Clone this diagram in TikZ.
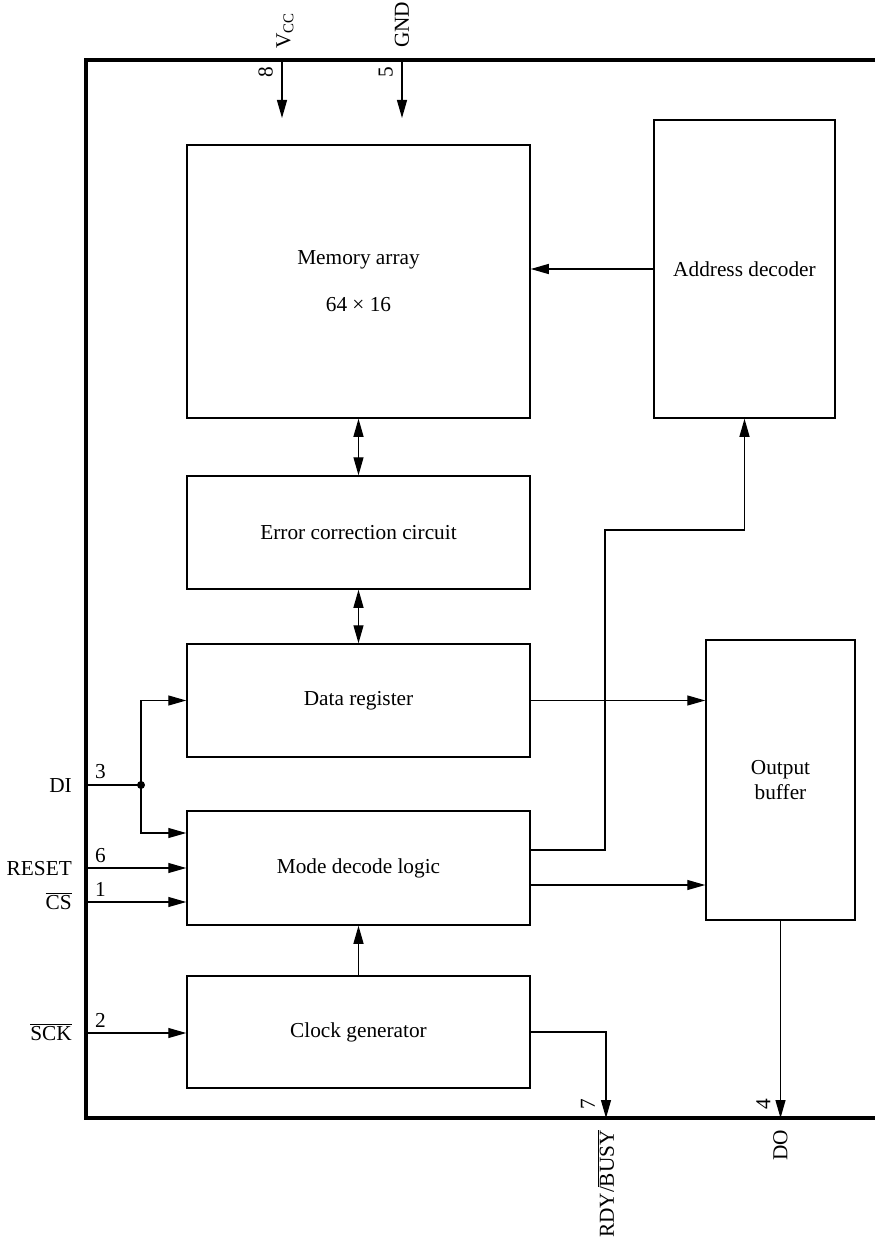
\documentclass[tikz,border=0pt]{standalone}
\usepackage{fontspec}
\setmainfont{Liberation Serif}
\usetikzlibrary{arrows.meta,calc}

\begin{document}
\begin{tikzpicture}[x=1pt,y=-1pt,
    every node/.style={font=\fontsize{21.3}{25}\selectfont},
    bloc/.style={draw, line width=1.5pt, align=center, inner sep=0pt},
    fil/.style={line width=1.2pt, -{Triangle[length=18pt,width=10pt]}},
    fildouble/.style={line width=1.2pt, {Triangle[length=18pt,width=10pt]}-{Triangle[length=18pt,width=10pt]}},
    lien/.style={line width=1.2pt},
    broche/.style={inner sep=0pt},
    numero/.style={inner sep=0pt}]
    \useasboundingbox (0,0) rectangle (875,1241);
    % Boitier
    \draw[line width=4pt] (875,60) -- (86,60) -- (86,1118) -- (875,1118);
    % Blocs
    \node[bloc, minimum width=343pt, minimum height=273pt] (mem) at (358.5,281.5) {Memory array\\[22pt]64 × 16};
    \node[bloc, minimum width=181pt, minimum height=298pt] (addr) at (744.5,269) {Address decoder};
    \node[bloc, minimum width=343pt, minimum height=113pt] (ecc) at (358.5,532.5) {Error correction circuit};
    \node[bloc, minimum width=343pt, minimum height=113pt] (data) at (358.5,700.5) {Data register};
    \node[bloc, minimum width=343pt, minimum height=114pt] (mode) at (358.5,868) {Mode decode logic};
    \node[bloc, minimum width=343pt, minimum height=112pt] (clk) at (358.5,1032) {Clock generator};
    \node[bloc, minimum width=149pt, minimum height=280pt] (out) at (780.5,780) {Output\\buffer};
    % Broches
    \coordinate (vcc) at (282,60);
    \coordinate (gnd) at (402,60);
    \coordinate (vccfin) at (282,118);
    \coordinate (gndfin) at (402,118);
    \coordinate (di) at (86,785);
    \coordinate (jn) at (141,785);
    \coordinate (reset) at (86,868);
    \coordinate (cs) at (86,902);
    \coordinate (sck) at (86,1033);
    \coordinate (rdy) at (606,1118);
    \coordinate (do) at (780.5,1118);
    % Points de sortie du bloc Mode
    \coordinate (modebas) at ($(mode.east)+(0,17)$);
    \coordinate (modehaut) at ($(mode.east)+(0,-18)$);
    % Alimentation
    \draw[fil] (vcc) -- (vccfin);
    \draw[fil] (gnd) -- (gndfin);
    \node[broche, rotate=90, anchor=west] (lvcc) at ($(vcc)+(3,-11)$) {V\textsubscript{CC}};
    \node[broche, rotate=90, anchor=west] (lgnd) at ($(gnd)+(0,-12)$) {GND};
    \node[numero, rotate=90, anchor=south east] (n8) at ($(vcc)+(-9,7)$) {8};
    \node[numero, rotate=90, anchor=south east] (n5) at ($(gnd)+(-9,7)$) {5};
    % Liaisons internes
    \draw[fil] (addr.west) -- (addr.west -| mem.east);
    \foreach \a/\b in {mem/ecc, ecc/data} {
        \draw[fildouble] (\a.south) -- (\b.north);
    }
    \draw[fil] (clk.north) -- (mode.south);
    \draw[fil] (data.east) -- (data.east -| out.west);
    \draw[fil] (modebas) -- (modebas -| out.west);
    \draw[fil] (modehaut) -| (605,530) -| (addr.south);
    % Entrees
    \draw[lien] (di) -- (jn);
    \fill (jn) circle (4);
    \draw[fil] (jn) |- (data.west);
    \draw[fil] (jn) |- ($(mode.west)+(0,-35)$);
    \draw[fil] (reset) -- (reset -| mode.west);
    \draw[fil] (cs) -- (cs -| mode.west);
    \draw[fil] (sck) -- (sck -| clk.west);
    \node[broche, anchor=base east] (ldi) at ($(di)+(-14,7)$) {DI};
    \node[broche, anchor=base east] (lreset) at ($(reset)+(-14,7)$) {RESET};
    \node[broche, anchor=base east] (lcs) at ($(cs)+(-14,7)$) {$\overline{\mbox{CS}}$};
    \node[broche, anchor=base east] (lsck) at ($(sck)+(-14,7)$) {$\overline{\mbox{SCK}}$};
    \node[numero, anchor=base west] (n3) at ($(di)+(9,-7)$) {3};
    \node[numero, anchor=base west] (n6) at ($(reset)+(9,-6)$) {6};
    \node[numero, anchor=base west] (n1) at ($(cs)+(9,-6)$) {1};
    \node[numero, anchor=base west] (n2) at ($(sck)+(9,-6)$) {2};
    % Sorties
    \draw[fil] (clk.east) -| (rdy);
    \draw[fil] (out.south) -- (do);
    \node[broche, rotate=90, anchor=east] (lrdy) at ($(rdy)+(0,12)$) {RDY/$\overline{\mbox{BUSY}}$};
    \node[broche, rotate=90, anchor=east] (ldo) at ($(do)+(0,12)$) {DO};
    \node[numero, rotate=90, anchor=south west] (n7) at ($(rdy)+(-11,-8)$) {7};
    \node[numero, rotate=90, anchor=south west] (n4) at ($(do)+(-10,-8)$) {4};
\end{tikzpicture}
\end{document}
